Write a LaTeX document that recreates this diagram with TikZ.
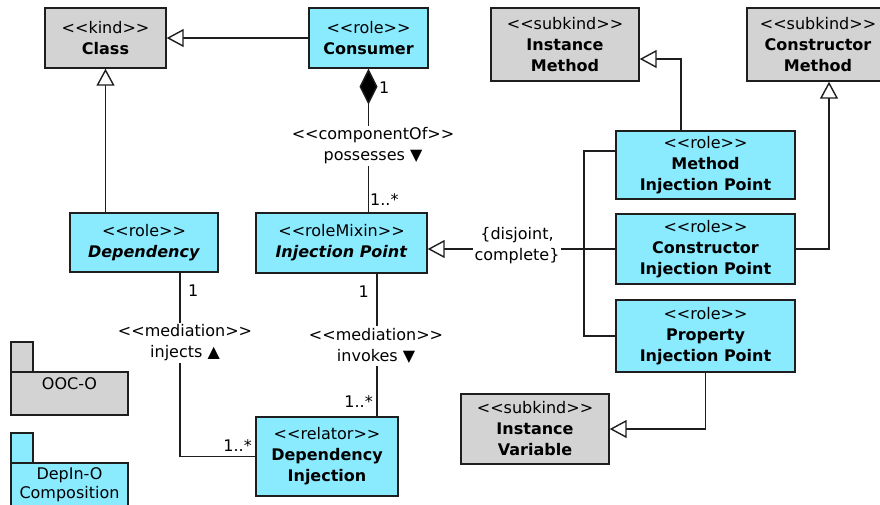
\documentclass[tikz,border=0pt]{standalone}
\usepackage{fontspec}
\setmainfont{DejaVu Sans}[Ligatures=TeXOff]
\usetikzlibrary{arrows.meta,calc}
\definecolor{cyanf}{RGB}{138,235,255}
\definecolor{grayf}{RGB}{211,211,211}
\definecolor{edge}{RGB}{30,30,30}
\begin{document}
\begin{tikzpicture}[x=1pt,y=-1pt, font=\fontsize{16}{21}\selectfont,
 box/.style={draw=edge, line width=1.4pt, inner sep=0pt, align=center},
 rolebox/.style={box, fill=cyanf},
 kindbox/.style={box, fill=grayf},
 conn/.style={draw=edge, line width=1.4pt},
 gen/.style={conn, -{Triangle[open, length=17pt, width=18pt, fill=white]}},
 comp/.style={conn, -{Diamond[length=36pt, width=18pt, fill=black]}},
 lbl/.style={inner sep=1pt, align=center},
 cut/.style={lbl, fill=white, inner sep=2pt}]
\useasboundingbox (0,0) rectangle (880,504);
\clip (0,0) rectangle (880,504);

% classes
\node[kindbox, minimum width=121pt, minimum height=60pt] (cls) at (105.5,38) {<<kind>>\\\textbf{Class}};
\node[rolebox, minimum width=119pt, minimum height=60pt] (cons) at (368.5,38) {<<role>>\\\textbf{Consumer}};
\node[kindbox, minimum width=148pt, minimum height=73pt] (im) at (565,44.5) {<<subkind>>\\\textbf{Instance}\\\textbf{Method}};
\node[kindbox, minimum width=142pt, minimum height=73pt] (cm) at (818,44.5) {<<subkind>>\\\textbf{Constructor}\\\textbf{Method}};
\node[rolebox, minimum width=148pt, minimum height=59pt] (dep) at (144,242.5) {<<role>>\\\textbf{\itshape Dependency}};
\node[rolebox, minimum width=171pt, minimum height=60pt] (ip) at (341.5,243) {<<roleMixin>>\\\textbf{\itshape Injection Point}};
\node[rolebox, minimum width=179pt, minimum height=68pt] (mip) at (705.5,165) {<<role>>\\\textbf{Method}\\\textbf{Injection Point}};
\node[rolebox, minimum width=179pt, minimum height=70pt] (cip) at (705.5,249) {<<role>>\\\textbf{Constructor}\\\textbf{Injection Point}};
\node[rolebox, minimum width=179pt, minimum height=72pt] (pip) at (705.5,336) {<<role>>\\\textbf{Property}\\\textbf{Injection Point}};
\node[kindbox, minimum width=148pt, minimum height=70pt] (iv) at (535,429) {<<subkind>>\\\textbf{Instance}\\\textbf{Variable}};
\node[rolebox, minimum width=142pt, minimum height=79pt] (di) at (327,456.5) {<<relator>>\\\textbf{Dependency}\\\textbf{Injection}};

% packages
\draw[box, fill=grayf] (11,342) rectangle (33,372);
\draw[box, fill=grayf] (11,372) rectangle (128,415);
\node[lbl] (pk1) at (69.5,384) {OOC-O};
\draw[box, fill=cyanf] (11,433) rectangle (33,463);
\draw[box, fill=cyanf] (11,463) rectangle (128,520);
\node[lbl, font=\fontsize{16}{19}\selectfont] (pk2) at (69.5,485) {DepIn-O\\Composition};

% generalizations
\draw[gen] (cons.west) -- (cls.east);
\draw[gen] (dep.north -| cls.south) -- (cls.south);
\coordinate (mupx) at (681,0);
\draw[gen] (mip.north -| mupx) |- ($(im.east)+(0,14.5)$);
\coordinate (cupx) at (829,0);
\draw[gen] (cip.east) -| (cm.south -| cupx);
\draw[gen] (pip.south) |- (iv.east);

% generalization set
\coordinate (bus) at (584,0);
\draw[conn] ($(mip.west)+(0,-14)$) -| (bus |- pip.west) -- (pip.west);
\draw[gen] (cip.west) -- (ip.east |- cip.west);
\node[cut] (gs) at (517,246) {\{disjoint,\\complete\}};

% composition
\draw[comp] (ip.north -| cons.south) -- (cons.south);
\node[cut] (cmpl) at (373,146) {<<componentOf>>\\possesses ▼};
\node[lbl, anchor=west] (m1) at (378,88) {1};
\node[lbl, anchor=west] (m2) at (369,200) {1..*};

% mediation invokes
\coordinate (inv) at (377,0);
\draw[conn] (ip.south -| inv) -- (di.north -| inv);
\node[cut] (medl2) at (376,346) {<<mediation>>\\invokes ▼};
\node[lbl, anchor=east] (m3) at (370,292) {1};
\node[lbl, anchor=east] (m4) at (374,402) {1..*};

% mediation injects
\coordinate (inj) at (180,0);
\draw[conn] (dep.south -| inj) |- (di.west);
\node[cut] (medl1) at (185,343) {<<mediation>>\\injects ▲};
\node[lbl, anchor=west] (m5) at (187,291) {1};
\node[lbl, anchor=east] (m6) at (253,446) {1..*};
\end{tikzpicture}
\end{document}
